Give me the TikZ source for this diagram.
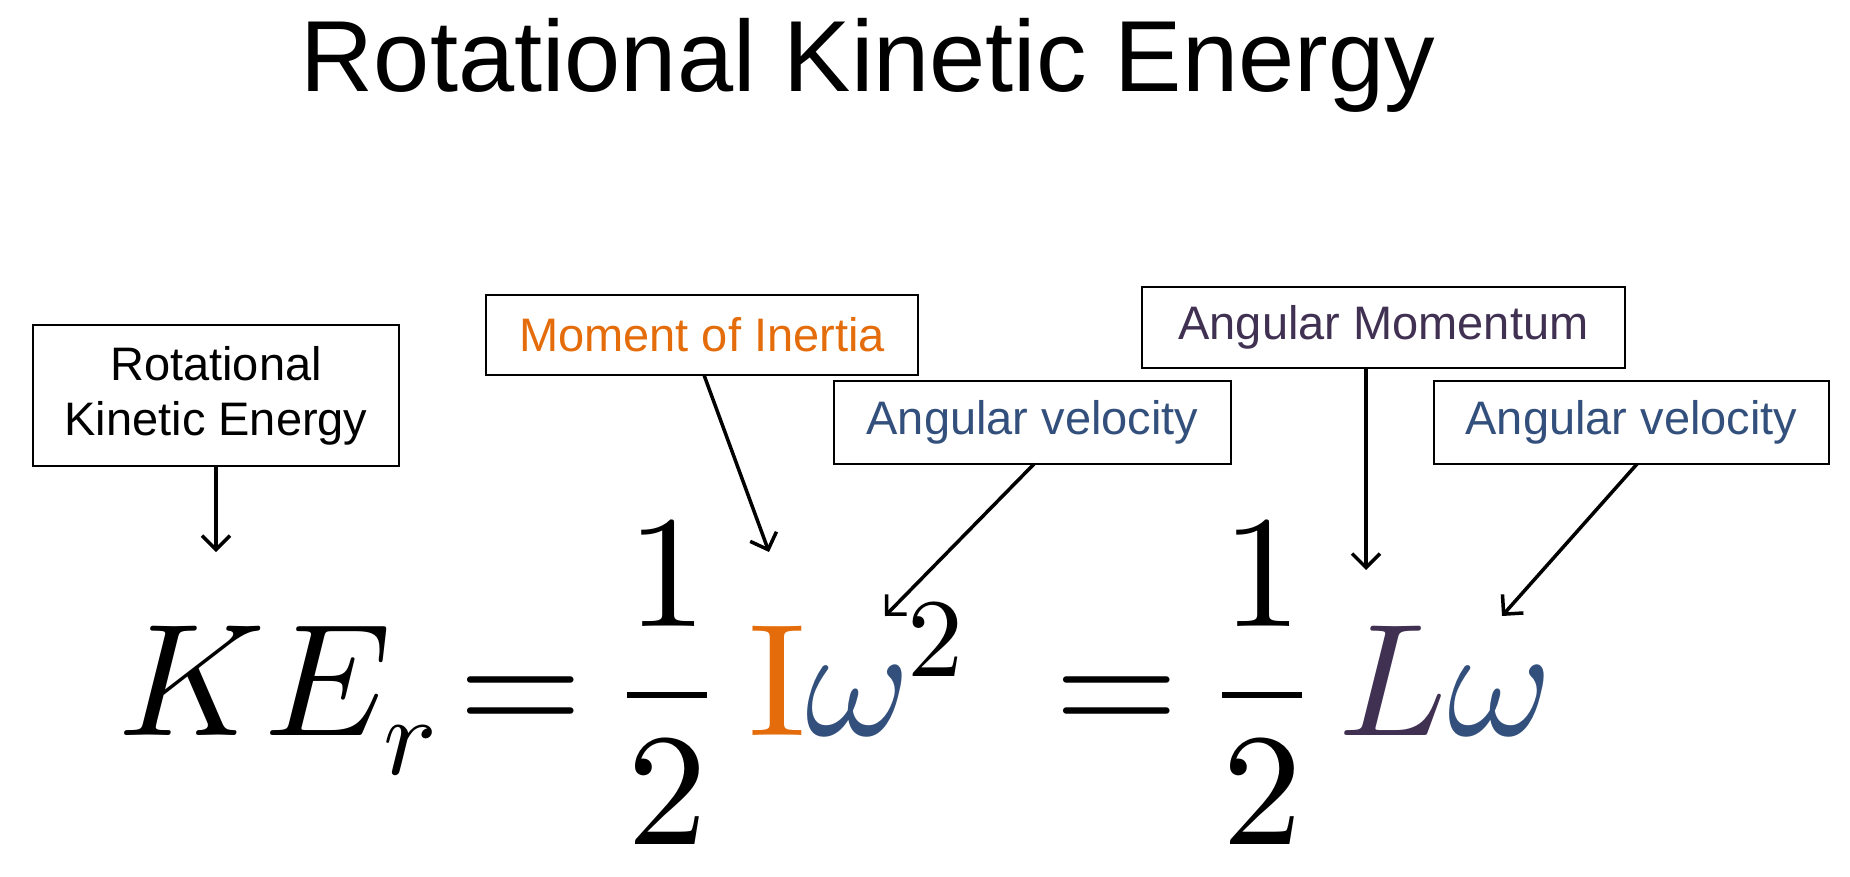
\documentclass[tikz,border=0pt]{standalone}
\usepackage{fontspec}
\setmainfont{Liberation Sans}
\usepackage{unicode-math}
\setmathfont{Latin Modern Math}
\usetikzlibrary{arrows.meta}
\definecolor{orng}{HTML}{E46C0A}
\definecolor{blu}{HTML}{33507D}
\definecolor{purp}{HTML}{403152}
\begin{document}
\begin{tikzpicture}[x=1pt,y=-1pt,
  lbl/.style={draw,line width=1.6pt,inner sep=0pt,font=\fontsize{47}{55}\selectfont,align=center},
  eqp/.style={anchor=base west,inner sep=0pt,font=\fontsize{160}{170}\selectfont},
  arr/.style={line width=3.5pt,-{Straight Barb[length=14pt,width=28pt,line width=3.5pt]}}]
\useasboundingbox[fill=white] (0,0) rectangle (1850,876);
\node[font=\fontsize{101}{110}\selectfont] (title) at (868,65) {Rotational Kinetic Energy};
\node[lbl,minimum width=366pt,minimum height=141pt] (b1) at (216,395.5) {Rotational\\Kinetic Energy};
\node[lbl,text=orng,minimum width=432pt,minimum height=80pt] (b2) at (702,335) {Moment of Inertia};
\node[lbl,text=blu,minimum width=397pt,minimum height=83pt] (b3) at (1032.5,422.5) {Angular velocity};
\node[lbl,text=purp,minimum width=483pt,minimum height=81pt] (b4) at (1383.5,327.5) {Angular Momentum};
\node[lbl,text=blu,minimum width=395pt,minimum height=83pt] (b5) at (1631.5,422.5) {Angular velocity};
\node[eqp] (ke) at (118,735) {$KE_r$};
\node[eqp] (eq1) at (458,735) {$=$};
\node[eqp,anchor=base] (f1) at (667,735) {$\dfrac{1}{2}$};
\node[eqp] (iw) at (748,735) {$\textcolor{orng}{\symup{I}}\textcolor{blu}{\omega}^2$};
\node[eqp] (eq2) at (1054,735) {$=$};
\node[eqp,anchor=base] (f2) at (1262,735) {$\dfrac{1}{2}$};
\node[eqp] (lw) at (1338,735) {$\textcolor{purp}{L}\textcolor{blu}{\omega}$};
\coordinate (e1) at (216,552);
\coordinate (s2) at (704,375); \coordinate (e2) at (769,552);
\coordinate (s3) at (1034,464); \coordinate (e3) at (885,616);
\coordinate (s4) at (1366,368); \coordinate (e4) at (1366,570);
\coordinate (s5) at (1637,464); \coordinate (e5) at (1502,616);
\draw[arr] (b1.south) -- (e1);
\draw[arr] (s2) -- (e2);
\draw[arr] (s3) -- (e3);
\draw[arr] (s4) -- (e4);
\draw[arr] (s5) -- (e5);
\end{tikzpicture}
\end{document}
